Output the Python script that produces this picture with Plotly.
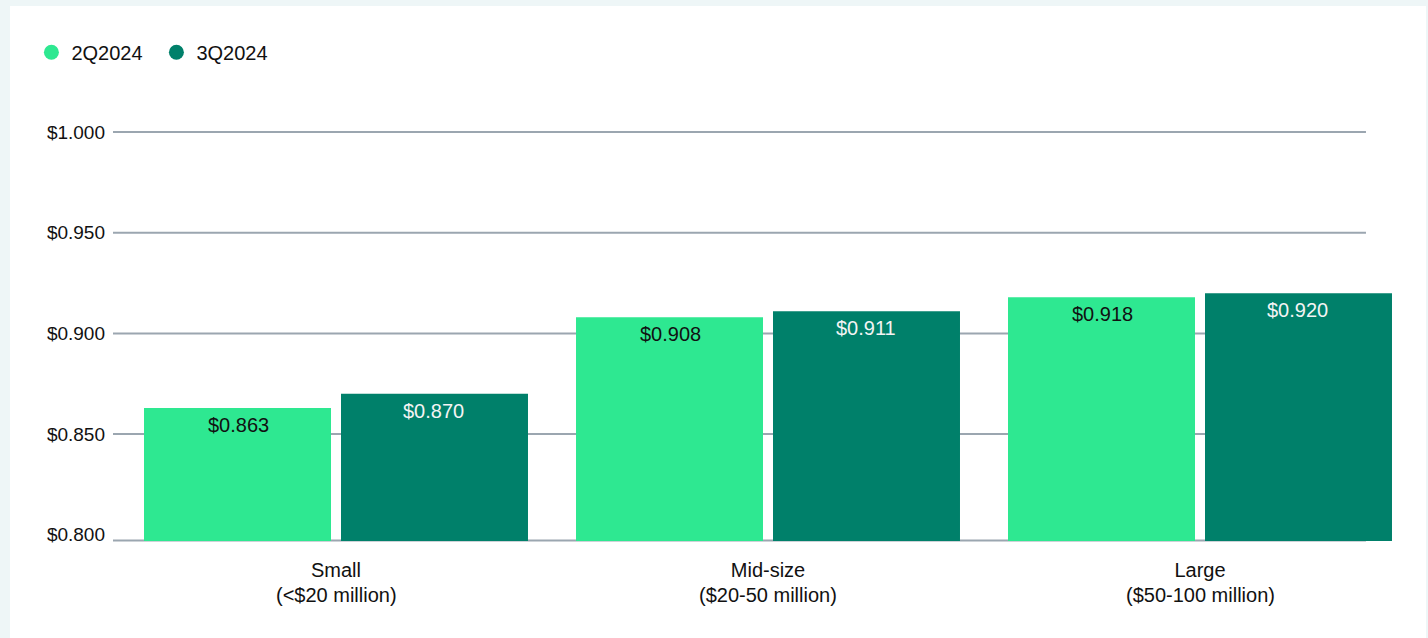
import plotly.graph_objects as go

# Revenue per dollar by company size
categories = ["Small", "Mid-size", "Large"]
size_ranges = ["(<$20 million)", "($20-50 million)", "($50-100 million)"]
series_names = ["2Q2024", "3Q2024"]
values_2q = [0.863, 0.908, 0.918]
values_3q = [0.870, 0.911, 0.920]
tick_vals = [0.80, 0.85, 0.90, 0.95, 1.00]
tick_text = ["$0.800", "$0.850", "$0.900", "$0.950", "$1.000"]

LIGHT = "#2ee891"
DARK = "#00806a"
GRID = "#9ba6b0"
INK = "#111111"
FONT = "Liberation Sans, Arial, sans-serif"
FS = 20

Y_MIN, Y_MAX = 0.7969, 1.0050

fig = go.Figure()

series = [
    (series_names[0], values_2q, LIGHT, INK, -0.2257),
    (series_names[1], values_3q, DARK, "#f4f4f4", 0.2257),
]

annotations = []
for name, vals, color, tcolor, offset in series:
    fig.add_trace(go.Bar(
        x=categories, y=vals, name=name, marker=dict(color=color, line=dict(width=0)),
        showlegend=False, hoverinfo="skip",
    ))
    # value labels just inside the top of each bar
    for i, v in enumerate(vals):
        annotations.append(dict(
            x=i + offset, y=v, xref="x", yref="y", text=f"${v:.3f}", showarrow=False,
            yanchor="middle", yshift=-17, font=dict(size=FS, color=tcolor, family=FONT),
        ))

# second line of each category label
for i, r in enumerate(size_ranges):
    annotations.append(dict(
        x=i, y=0, xref="x", yref="paper", text=r, showarrow=False,
        yanchor="middle", yshift=-54, font=dict(size=FS, color=INK, family=FONT),
    ))

# round legend markers
for name, color in [(series_names[0], LIGHT), (series_names[1], DARK)]:
    fig.add_trace(go.Scatter(
        x=[None], y=[None], mode="markers", name=name,
        marker=dict(symbol="circle", size=15, color=color), showlegend=True,
    ))

shapes = [
    # white card on the tinted page
    dict(type="rect", xref="paper", yref="paper", x0=-0.0849, x1=1.0077, y0=-0.4, y1=1.2768,
         fillcolor="white", line=dict(width=0), layer="below"),
]
for v in tick_vals[1:]:
    shapes.append(dict(type="line", xref="paper", yref="y", x0=-0.0054, x1=0.9614, y0=v, y1=v,
                       line=dict(color=GRID, width=2), layer="below"))
# baseline
shapes.append(dict(type="line", xref="paper", yref="paper", x0=-0.0054, x1=0.9614, y0=0.001, y1=0.001,
                   line=dict(color=GRID, width=2), layer="below"))

fig.update_layout(
    width=1428, height=638,
    margin=dict(l=120, r=12, t=122, b=97),
    paper_bgcolor="#eef6f7", plot_bgcolor="rgba(0,0,0,0)",
    font=dict(family=FONT, size=FS, color=INK),
    barmode="group", bargap=0.088, bargroupgap=0.0508,
    shapes=shapes, annotations=annotations,
    legend=dict(orientation="h", xref="container", yref="container", x=0.022, y=0.918,
                xanchor="left", yanchor="middle", font=dict(size=FS, color=INK),
                entrywidth=80, bgcolor="rgba(0,0,0,0)"),
    xaxis=dict(showgrid=False, zeroline=False, showline=False, ticks="", ticklabelstandoff=15,
               tickfont=dict(size=FS, color=INK), fixedrange=True),
    yaxis=dict(range=[Y_MIN, Y_MAX], tickvals=tick_vals, ticktext=tick_text, showgrid=False,
               zeroline=False, showline=False, ticks="", ticklabelstandoff=14,
               tickfont=dict(size=19, color=INK), fixedrange=True),
)

fig.write_html("out.html")
